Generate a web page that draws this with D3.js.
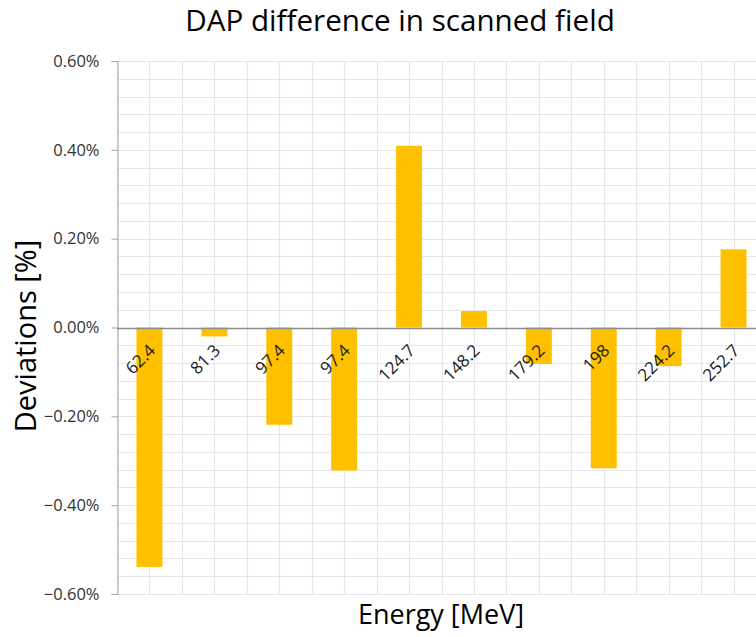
<!DOCTYPE html>
<html>
<head>
<meta charset="utf-8">
<script src="https://cdn.jsdelivr.net/npm/d3@7"></script>
<style>
  html, body { margin: 0; padding: 0; background: #fff; overflow: hidden; }
  svg { display: block; font-family: "Open Sans", sans-serif; }
</style>
</head>
<body>
<div id="chart"></div>
<script>
// energies on the category axis (MeV)
var categories = ["62.4", "81.3", "97.4", "97.4", "124.7", "148.2", "179.2", "198", "224.2", "252.7"];
// DAP deviation per energy (fraction, 0.01 = 1%)
var deviations = [-0.00539, -0.0002, -0.00219, -0.00322, 0.00409, 0.00037, -0.00082, -0.00317, -0.00087, 0.00176];
var yTicks = [-0.006, -0.004, -0.002, 0, 0.002, 0.004, 0.006];

var width = 756, height = 637;
// plot area (the right side runs past the window edge, as in the reference)
var plotLeft = 117, plotRight = 766, plotTop = 61, plotBottom = 594;

var svg = d3.select("#chart")
    .append("svg")
    .attr("width", width)
    .attr("height", height);

var x = d3.scaleBand()
    .domain(d3.range(categories.length))
    .range([plotLeft, plotRight])
    .padding(0);

var y = d3.scaleLinear()
    .domain([-0.006, 0.006])
    .range([plotBottom, plotTop]);

var step = x.bandwidth();
var barWidth = step / 2.5;

// minor horizontal grid every 0.04%
var minor = d3.range(-0.006, 0.00601, 0.0004);
svg.append("g")
    .selectAll("line")
    .data(minor)
    .enter()
    .append("line")
    .attr("x1", plotLeft)
    .attr("x2", plotRight)
    .attr("y1", d => Math.round(y(d)) + 0.5)
    .attr("y2", d => Math.round(y(d)) + 0.5)
    .attr("stroke", "#e6e6e6")
    .attr("stroke-width", 1.2);

// vertical grid at band edges and band centres
var vlines = [];
d3.range(categories.length).forEach(function (i) {
    vlines.push(x(i));
    vlines.push(x(i) + step / 2);
});
svg.append("g")
    .selectAll("line")
    .data(vlines)
    .enter()
    .append("line")
    .attr("x1", d => Math.round(d) + 0.5)
    .attr("x2", d => Math.round(d) + 0.5)
    .attr("y1", plotTop)
    .attr("y2", plotBottom)
    .attr("stroke", "#e6e6e6")
    .attr("stroke-width", 1.2);

// bars
svg.append("g")
    .selectAll("rect")
    .data(deviations)
    .enter()
    .append("rect")
    .attr("x", (d, i) => x(i) + (step - barWidth) / 2)
    .attr("width", barWidth)
    .attr("y", d => y(Math.max(0, d)))
    .attr("height", d => Math.abs(y(d) - y(0)))
    .attr("fill", "#ffc000");

// y axis
var yAxis = d3.axisLeft(y)
    .tickValues(yTicks)
    .tickFormat(d3.format(".2%"))
    .tickSize(6)
    .tickPadding(12);
var gy = svg.append("g")
    .attr("transform", "translate(" + (plotLeft + 0.5) + ",0)")
    .call(yAxis);
gy.select(".domain").attr("stroke", "#a6a6a6");
gy.selectAll(".tick line").attr("stroke", "#a6a6a6");
gy.selectAll(".tick text")
    .attr("fill", "#333")
    .style("font-size", "16.5px")
    .style("font-family", "Open Sans, sans-serif");

// zero line
svg.append("line")
    .attr("x1", plotLeft)
    .attr("x2", plotRight)
    .attr("y1", Math.round(y(0)) + 0.5)
    .attr("y2", Math.round(y(0)) + 0.5)
    .attr("stroke", "#8c8c8c")
    .attr("stroke-width", 1.3);

// category labels, rotated, next to the zero line
svg.append("g")
    .selectAll("text")
    .data(categories)
    .enter()
    .append("text")
    .attr("transform", (d, i) => "translate(" + (x(i) + step / 2 + 7) + "," + (y(0) + 24) + ") rotate(-45)")
    .attr("text-anchor", "end")
    .attr("fill", "#1a1a1a")
    .style("font-size", "17px")
    .text(d => d);

// titles
svg.append("text")
    .attr("x", 400)
    .attr("y", 31)
    .attr("text-anchor", "middle")
    .attr("fill", "#000")
    .style("font-size", "29.6px")
    .text("DAP difference in scanned field");

svg.append("text")
    .attr("transform", "translate(36,336) rotate(-90)")
    .attr("text-anchor", "middle")
    .attr("fill", "#000")
    .style("font-size", "29px")
    .text("Deviations [%]");

svg.append("text")
    .attr("x", 441)
    .attr("y", 624)
    .attr("text-anchor", "middle")
    .attr("fill", "#000")
    .style("font-size", "27px")
    .text("Energy [MeV]");
</script>
</body>
</html>
